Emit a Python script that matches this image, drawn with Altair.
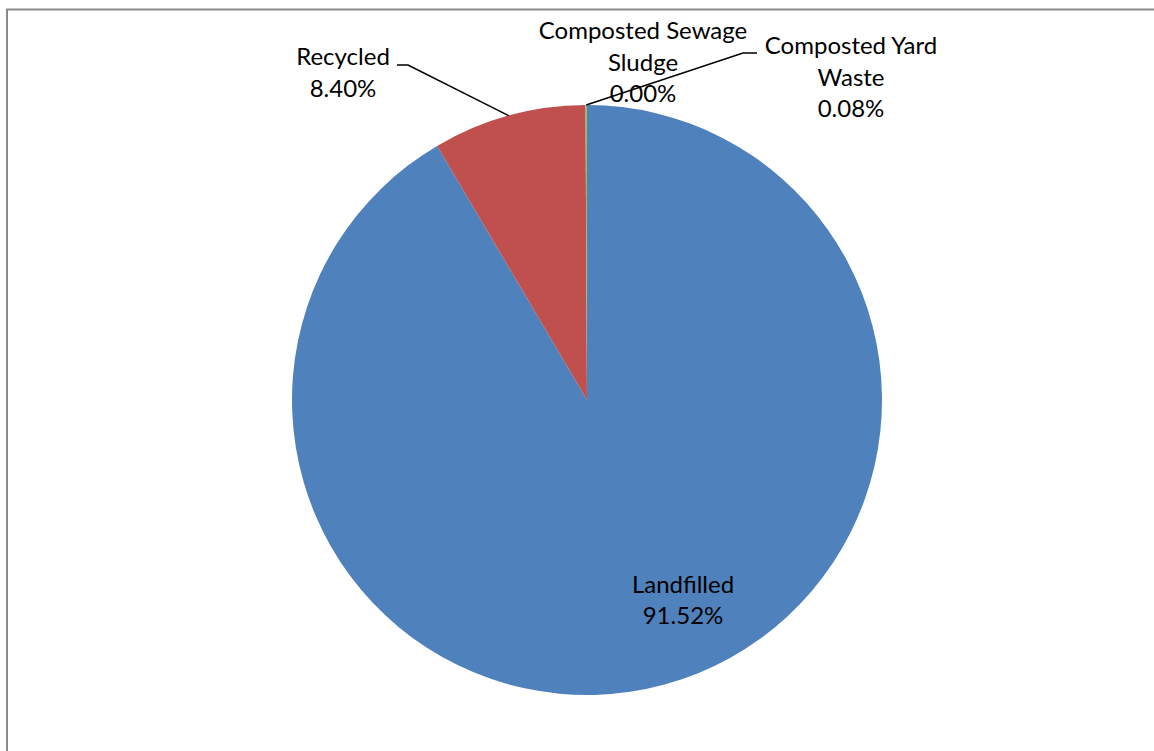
import math
import altair as alt
import pandas as pd

# Waste disposal shares (percent of total)
categories = ["Landfilled", "Recycled", "Composted Sewage Sludge", "Composted Yard Waste"]
shares = [91.52, 8.40, 0.00, 0.08]
colors = ["#4F81BD", "#C0504D", "#8064A2", "#9BBB59"]
# Category names as wrapped in the data labels
label_names = [["Landfilled"], ["Recycled"], ["Composted Sewage", "Sludge"], ["Composted Yard", "Waste"]]

W, H = 1154, 751
CX, CY, R = 587, 400, 295
FONT = "Lato"
FONT_SIZE = 24
LINE_H = 31.5

# Label block centres (pixels) and leader-line elbows
label_centres = {
    "Landfilled": (683, 601.5),
    "Recycled": (343, 74),
    "Composted Sewage Sludge": (643, 63.5),
    "Composted Yard Waste": (851, 78.5),
}
leader_elbows = {
    "Recycled": [(397, 65), (408, 65)],
    "Composted Yard Waste": [(757, 53), (743, 53)],
}

pie_df = pd.DataFrame({
    "category": categories,
    "share": shares,
    "order": list(range(len(categories))),
})

# Text rows, one per line of each label
rows = []
for cat, share, names in zip(categories, shares, label_names):
    lines = names + [f"{share:.2f}%"]
    cx, cy = label_centres[cat]
    n = len(lines)
    for i, t in enumerate(lines):
        rows.append({"text": t, "x": cx, "y": cy + (i - (n - 1) / 2) * LINE_H})
text_df = pd.DataFrame(rows)

# Leader lines end on the rim at each slice's mid angle
total = sum(shares)
cum = 0.0
mids = {}
for cat, share in zip(categories, shares):
    mids[cat] = (cum + share / 2) / total * 2 * math.pi
    cum += share
lrows = []
for cat, pts in leader_elbows.items():
    a = mids[cat]
    rim = (CX + R * math.sin(a), CY - R * math.cos(a))
    for i, (px, py) in enumerate(pts + [rim]):
        lrows.append({"seg": cat, "i": i, "x": px, "y": py})
leader_df = pd.DataFrame(lrows)

xs = alt.Scale(domain=[0, W], range=[0, W], nice=False, zero=False)
ys = alt.Scale(domain=[0, H], range=[0, H], nice=False, zero=False)

pie = alt.Chart(pie_df).mark_arc(radius=R, stroke=None).encode(
    theta=alt.Theta("share:Q", stack=True),
    order=alt.Order("order:Q"),
    color=alt.Color("category:N", scale=alt.Scale(domain=categories, range=colors), legend=None),
    x=alt.value(CX),
    y=alt.value(CY),
)

leaders = alt.Chart(leader_df).mark_line(color="black", strokeWidth=1.5).encode(
    x=alt.X("x:Q", scale=xs, axis=None),
    y=alt.Y("y:Q", scale=ys, axis=None),
    detail="seg:N",
    order="i:Q",
)

labels = alt.Chart(text_df).mark_text(
    font=FONT, fontSize=FONT_SIZE, color="#000000", align="center", baseline="middle"
).encode(
    x=alt.X("x:Q", scale=xs, axis=None),
    y=alt.Y("y:Q", scale=ys, axis=None),
    text="text:N",
)

# Chart frame: left and top edges
frame_df = pd.DataFrame({"x": [7, 7, W + 5], "y": [H + 5, 9.5, 9.5]})
frame = alt.Chart(frame_df).mark_line(color="#8A8A8A", strokeWidth=2).encode(
    x=alt.X("x:Q", scale=xs, axis=None),
    y=alt.Y("y:Q", scale=ys, axis=None),
    order=alt.Order("y:Q", sort="descending"),
)

chart = alt.layer(frame, pie, leaders, labels).properties(
    width=W, height=H, autosize="none", padding=0, background="white"
).configure_view(stroke=None)

chart.save("out.html", embed_options={"renderer": "svg", "actions": False})
